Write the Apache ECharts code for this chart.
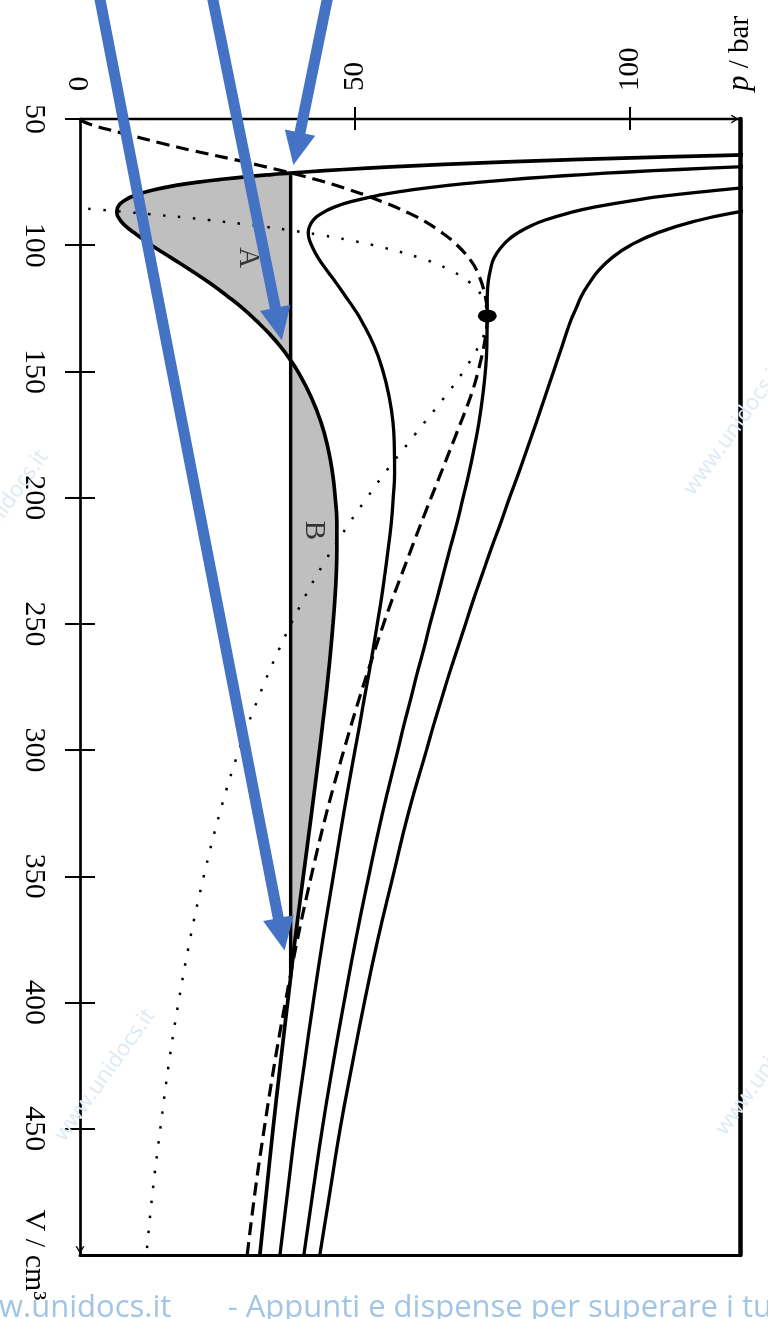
<!DOCTYPE html>
<html><head><meta charset="utf-8">
<script src="https://cdn.jsdelivr.net/npm/echarts@6/dist/echarts.min.js"></script>
<style>html,body{margin:0;padding:0;background:#fff}#c{width:768px;height:1319px}</style>
</head><body><div id="c"></div>
<script>
// ---- data: [V (cm^3), p (bar)] ----
const pLabelValues = [0, 50, 100, 120];
const pTickValues = [50, 100];
const vTickValues = [50, 100, 150, 200, 250, 300, 350, 400, 450];
const vLabelValues = [50, 100, 150, 200, 250, 300, 350, 400, 450, 500];

const iso260 = [[63,146.2],[64,124.7],[65,106.5],[66,90.9],[67,77.6],[68,66.2],[69,56.5],[70,48.0],[71,40.9],[71.45,38.3],[72,34.8],[73,29.6],[74,25.3],[75,21.5],[76,18.3],[78,13.5],[80,10.3],[82,8.3],[85,6.85],[87,6.7],[90,7.3],[92,8.1],[95,9.8],[100,13.0],[105,16.6],[110,20.2],[115,23.6],[120,26.7],[125,29.6],[130,32.1],[135,34.4],[140,36.4],[145,38.1],[150,39.6],[160,42.0],[170,43.8],[180,45.05],[190,45.9],[200,46.4],[210,46.7],[220,46.7],[230,46.6],[240,46.35],[250,46.0],[260,45.6],[270,45.15],[280,44.65],[290,44.1],[300,43.55],[325,42.1],[350,40.6],[375,39.1],[390,38.3],[400,37.75],[425,36.4],[450,35.1],[475,33.9],[500,32.7]];
const iso280 = [[66,162.2],[68,131.8],[69,119.6],[70,108.9],[71,99.6],[72,91.5],[73,84.4],[74,78.3],[75,72.9],[76,68.2],[78,60.6],[80,54.85],[82,50.6],[85,46.1],[88,43.5],[90,42.45],[92,41.85],[95,41.5],[97,41.6],[100,42.1],[105,43.3],[110,44.9],[115,46.6],[120,48.2],[125,49.8],[130,51.2],[140,53.5],[150,55.1],[160,56.2],[170,56.9],[180,57.15],[190,57.2],[200,56.95],[210,56.6],[220,56.05],[230,55.45],[240,54.8],[250,54.05],[260,53.3],[270,52.5],[280,51.65],[290,50.85],[300,50.0],[325,47.95],[350,46.05],[375,44.15],[400,42.4],[425,40.75],[450,39.15],[475,37.75],[500,36.35]];
const iso304 = [[72,159.5],[74,142.0],[76,128.1],[77,122.3],[78,117.1],[80,108.35],[82,101.3],[85,93.3],[87,89.25],[90,84.6],[92,82.3],[95,79.7],[97,78.35],[100,76.9],[105,75.3],[110,74.6],[115,74.2],[120,74.05],[128,74.03],[140,73.97],[150,73.7],[160,73.2],[170,72.55],[180,71.7],[190,70.75],[200,69.65],[210,68.55],[220,67.3],[230,66.1],[240,64.9],[250,63.65],[260,62.5],[270,61.25],[280,60.1],[290,58.9],[300,57.8],[325,55.0],[350,52.5],[375,50.15],[400,48.0],[425,45.95],[450,44.05],[475,42.35],[500,40.7]];
const iso320 = [[80,143.95],[82,135.1],[85,124.7],[87,119.3],[90,112.7],[95,105.1],[100,100.1],[105,96.7],[110,94.3],[115,92.6],[120,91.2],[125,90.2],[130,89.2],[140,87.65],[150,86.1],[160,84.55],[170,83.0],[180,81.4],[190,79.8],[200,78.1],[210,76.5],[220,74.8],[230,73.2],[240,71.6],[250,70.1],[260,68.6],[270,67.1],[280,65.7],[290,64.3],[300,63.0],[325,59.7],[350,56.9],[375,54.15],[400,51.7],[425,49.45],[450,47.3],[475,45.45],[500,43.6]];
const spinodal = [[85.6,1.5],[86,3.8],[87,9.2],[88,14.2],[89,18.9],[90,23.3],[92,31.1],[94,37.95],[96,43.9],[98,49.0],[100,53.4],[105,61.8],[110,67.4],[115,71.0],[120,73.0],[128,74.05],[135,73.5],[140,72.5],[150,69.7],[160,66.35],[175,60.9],[190,55.5],[200,52.2],[210,49.0],[225,44.6],[240,40.7],[260,36.2],[280,32.3],[300,28.9],[325,25.4],[350,22.5],[375,20.0],[400,17.9],[425,16.1],[450,14.6],[475,13.2],[500,12.07]];
const binodal = [[50.3,0],[52.1,1.8],[55.4,7.3],[59.8,15.2],[62.7,20.85],[66.2,28.35],[68.4,32.7],[70.8,37.3],[73.7,42.4],[77.2,47.9],[82.7,54.9],[87.6,60.1],[90.6,62.7],[94.4,65.4],[99.2,68.2],[106.2,71.1],[111.8,72.5],[120.3,73.7],[128,74.05],[136.7,73.7],[149,72.5],[159.4,71.1],[176,68.2],[191.5,65.4],[206.3,62.7],[221.1,60.1],[251.9,54.9],[300.6,47.9],[346.6,42.4],[400.3,37.3],[461.4,32.7],[500,30.4]];
const tieP = 38.3;
const tieV = [71.45, 390];
const criticalPoint = [128, 74.05];
const areaLabels = [{name: 'A', V: 105, p: 30.5}, {name: 'B', V: 213, p: 42.4}];
// arrows: [startV, startP, tipV, tipP]
const arrows = [[-1.1, 3.3, 379.4, 37.2], [-1.1, 23.8, 137.6, 36.7], [-1.1, 45.3, 68.2, 38.8]];
const footerText = 'w.unidocs.it       - Appunti e dispense per superare i tuoi esami';
const watermarkText = 'www.unidocs.it';

// ---- helpers ----
const serif = 'Liberation Serif';
const toXY = arr => arr.map(d => [d[1], d[0]]);
const shadeBoundary = iso260.filter(d => d[0] >= tieV[0] && d[0] <= tieV[1]);
const chevronUp = 'path://M0,10 L6,0 L12,10 L10,10 L6,3.4 L2,10 Z';

const xBase = {type: 'value', min: 0, max: 120, interval: 50, splitLine: {show: false}};
const yBase = {type: 'value', min: 50, max: 500, interval: 50, inverse: true, splitLine: {show: false}};

function isoSeries(data, width, z) {
  return {type: 'line', data: toXY(data), smooth: 0.5, showSymbol: false, symbol: 'none',
    lineStyle: {color: '#000', width: width}, z: z, silent: true, clip: true};
}
function wm(x, y) {
  return {type: 'text', x: x, y: y, rotation: 0.95, z: 90, silent: true,
    style: {text: watermarkText, fill: '#dde9f5', font: '22px "Open Sans"', align: 'center', verticalAlign: 'middle'}};
}

const option = {
  animation: false,
  backgroundColor: '#fff',
  grid: {left: 80, right: 28, top: 119, bottom: 64, containLabel: false, outerBoundsMode: 'none'},
  xAxis: [
    Object.assign({}, xBase, {position: 'top',
      axisLine: {onZero: false, lineStyle: {color: '#000', width: 2.3}, symbol: ['none', chevronUp], symbolSize: [9, 10], symbolOffset: [0, -5]},
      axisTick: {show: true, inside: false, length: 12, lineStyle: {color: '#000', width: 2}, customValues: pTickValues},
      axisLabel: {show: true, rotate: -90, margin: 28, fontFamily: serif, fontSize: 29, color: '#000',
        customValues: pLabelValues,
        formatter: v => v === 120 ? '{i|p} / bar' : String(v),
        rich: {i: {fontStyle: 'italic', fontFamily: serif, fontSize: 31, color: '#000'}}}}),
    Object.assign({}, xBase, {position: 'top',
      axisLine: {show: false},
      axisTick: {show: true, inside: true, length: 11, lineStyle: {color: '#000', width: 2}, customValues: pTickValues},
      axisLabel: {show: false}}),
    Object.assign({}, xBase, {position: 'bottom',
      axisLine: {onZero: false, lineStyle: {color: '#000', width: 3}},
      axisTick: {show: false}, axisLabel: {show: false}})
  ],
  yAxis: [
    Object.assign({}, yBase, {position: 'left',
      axisLine: {onZero: false, lineStyle: {color: '#000', width: 2.7}, symbol: [chevronUp, 'none'], symbolSize: [9, 10], symbolOffset: [5, 0]},
      axisTick: {show: true, inside: false, length: 15, lineStyle: {color: '#000', width: 2}, customValues: vTickValues},
      axisLabel: {show: true, rotate: -90, margin: 31, fontFamily: serif, fontSize: 30, color: '#000',
        customValues: vLabelValues,
        formatter: v => v === 500 ? 'V / cm³' : String(v)}}),
    Object.assign({}, yBase, {position: 'left',
      axisLine: {show: false},
      axisTick: {show: true, inside: true, length: 15, lineStyle: {color: '#000', width: 2}, customValues: vTickValues},
      axisLabel: {show: false}}),
    Object.assign({}, yBase, {position: 'right',
      axisLine: {onZero: false, lineStyle: {color: '#000', width: 4.5}},
      axisTick: {show: false}, axisLabel: {show: false}})
  ],
  series: [
    {type: 'custom', coordinateSystem: 'cartesian2d', z: 1, silent: true,
      data: toXY(shadeBoundary),
      renderItem: (params, api) => {
        if (params.dataIndex !== 0) return {type: 'group', children: []};
        const pts = shadeBoundary.map(d => api.coord([d[1], d[0]]));
        return {type: 'polygon', shape: {points: pts}, style: {fill: '#bfbfbf'}};
      }},
    {type: 'line', data: toXY(spinodal), smooth: 0.4, showSymbol: false, symbol: 'none', z: 2, silent: true,
      lineStyle: {color: '#000', width: 2.5, type: [2.5, 12.5], cap: 'butt'}},
    {type: 'line', data: toXY(binodal), smooth: 0.4, showSymbol: false, symbol: 'none', z: 3, silent: true,
      lineStyle: {color: '#000', width: 3.2, type: [13, 7]}},
    isoSeries(iso260, 3.7, 4),
    isoSeries(iso280, 3.3, 4),
    isoSeries(iso304, 3.3, 4),
    isoSeries(iso320, 3.3, 4),
    {type: 'line', data: [[tieP, tieV[0]], [tieP, tieV[1]]], showSymbol: false, symbol: 'none', z: 4, silent: true,
      lineStyle: {color: '#000', width: 3.4}},
    {type: 'scatter', data: [[criticalPoint[1], criticalPoint[0]]], z: 5, silent: true,
      symbol: 'path://M50,0A50,50,0,1,1,50,100A50,50,0,1,1,50,0Z', symbolSize: [19, 13],
      itemStyle: {color: '#000', opacity: 1}},
    {type: 'scatter', z: 5, silent: true, symbolSize: 0,
      data: areaLabels.map(a => ({name: a.name, value: [a.p, a.V]})),
      label: {show: true, position: 'inside', rotate: -90, formatter: '{b}', fontFamily: serif, fontSize: 29, color: '#111'}},
    {type: 'custom', coordinateSystem: 'cartesian2d', z: 10, silent: true, clip: false,
      data: arrows.map(a => [a[1], a[0], a[3], a[2]]),
      encode: {x: [0, 2], y: [1, 3]},
      renderItem: (params, api) => {
        const s = api.coord([api.value(0), api.value(1)]);
        const t = api.coord([api.value(2), api.value(3)]);
        const dx = t[0] - s[0], dy = t[1] - s[1];
        const len = Math.sqrt(dx * dx + dy * dy);
        const ux = dx / len, uy = dy / len, nx = -uy, ny = ux;
        const headL = 33, headW = 15.5, shaftW = 5.5;
        const bx = t[0] - ux * headL, by = t[1] - uy * headL;
        const pts = [
          [s[0] + nx * shaftW, s[1] + ny * shaftW],
          [bx + nx * shaftW, by + ny * shaftW],
          [bx + nx * headW, by + ny * headW],
          [t[0], t[1]],
          [bx - nx * headW, by - ny * headW],
          [bx - nx * shaftW, by - ny * shaftW],
          [s[0] - nx * shaftW, s[1] - ny * shaftW]
        ];
        return {type: 'polygon', shape: {points: pts}, style: {fill: '#4472C4'}};
      }}
  ],
  graphic: [
    wm(-2, 516), wm(734, 429), wm(105, 1075), wm(766, 1069),
    {type: 'text', x: -1, y: 1293, z: 100, silent: true,
      style: {text: footerText, fill: '#a2c5e6', font: '31px "Open Sans"', verticalAlign: 'top'}}
  ]
};

const chart = echarts.init(document.getElementById('c'), null, {renderer: 'canvas', width: 768, height: 1319});
chart.setOption(option);
</script>
</body></html>
